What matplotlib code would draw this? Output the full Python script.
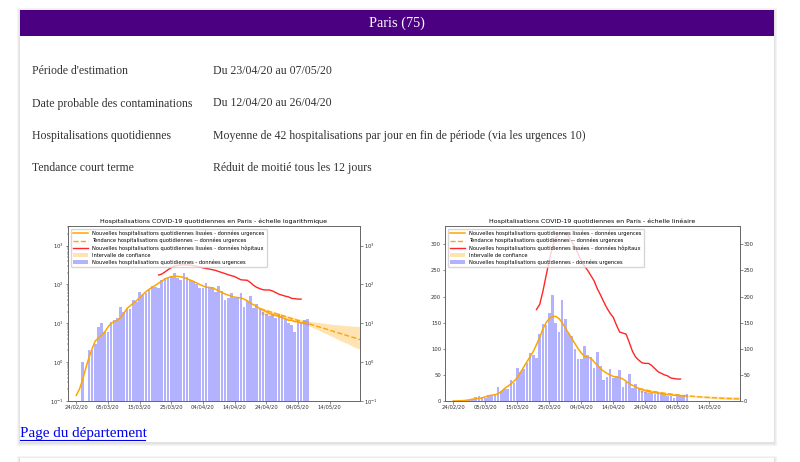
import pandas as pd
import matplotlib
matplotlib.use("Agg")
import matplotlib.pyplot as plt
import matplotlib.dates as mdates
from matplotlib.patches import Rectangle

# page text
department = "Paris (75)"
info_labels = ["Période d'estimation", "Date probable des contaminations",
               "Hospitalisations quotidiennes", "Tendance court terme"]
info_values = ["Du 23/04/20 au 07/05/20", "Du 12/04/20 au 26/04/20",
               "Moyenne de 42 hospitalisations par jour en fin de période (via les urgences 10)",
               "Réduit de moitié tous les 12 jours"]
link_text = "Page du département"

# daily new hospitalisations via emergency (bars), from 26/02/20
bar_start = "2020-02-26"
bar_values = [1, 0, 2, 2, 3, 8, 10, 6, 6, 11, 12, 14, 26, 20, 23, 23, 40, 35, 63, 55,
              62, 72, 92, 88, 82, 128, 147, 145, 168, 202, 150, 133, 193, 157, 130, 125,
              100, 80, 80, 106, 88, 84, 63, 93, 67, 40, 46, 62, 44, 48, 59, 27, 37, 51,
              25, 32, 24, 20, 17, 15, 16, 14, 17, 15, 13, 10, 9, 6, 11, 11, 12, 13]

# smoothed emergency series, from 24/02/20
smooth_start = "2020-02-24"
smooth_values = [0.14, 0.2, 0.35, 0.7, 1.3, 2.2, 3.5, 4.2, 5, 6, 8, 10, 11, 12, 14, 18,
                 24, 28, 33, 38, 45, 55, 65, 75, 85, 95, 108, 122, 138, 150, 158, 162,
                 162, 158, 150, 140, 130, 120, 110, 100, 92, 85, 84, 82, 75, 68, 62, 57,
                 53, 50, 47, 46, 45, 42, 38, 33, 30, 27, 24, 22, 20, 18, 17, 16, 15, 14,
                 13, 12, 12, 11, 11, 10, 10, 10]

# smoothed hospital series, from 21/03/20
hosp_start = "2020-03-21"
hosp_values = [175, 185, 210, 240, 270, 295, 312, 320, 321, 320, 316, 305, 295, 282,
               268, 258, 250, 240, 230, 215, 203, 190, 178, 168, 160, 145, 132, 130,
               128, 112, 95, 84, 78, 73, 72, 72, 68, 62, 56, 53, 50, 48, 44, 43, 42, 42]

# trend and confidence interval, every 2 days from 22/04/20
trend_start = "2020-04-22"
trend_values = [23.8, 21.2, 18.9, 16.8, 15.0, 13.3, 11.9, 10.6, 9.4, 8.4, 7.5, 6.7,
                5.9, 5.3, 4.7, 4.2, 3.7]
ci_upper = [26, 23.2, 20.6, 18.4, 16.4, 14.6, 13.2, 12.0, 11.2, 10.6, 10.1, 9.6,
            9.2, 8.9, 8.6, 8.4, 8.2]
ci_lower = [17, 16.5, 15.6, 14.5, 13.3, 12.0, 10.8, 9.6, 8.2, 7.0, 5.8, 4.9,
            4.1, 3.4, 2.9, 2.4, 2.1]

tick_labels = ["24/02/20", "05/03/20", "15/03/20", "25/03/20", "04/04/20",
               "14/04/20", "24/04/20", "04/05/20", "14/05/20"]

bar_dates = pd.date_range(bar_start, periods=len(bar_values))
smooth_dates = pd.date_range(smooth_start, periods=len(smooth_values))
hosp_dates = pd.date_range(hosp_start, periods=len(hosp_values))
trend_dates = pd.date_range(trend_start, periods=len(trend_values), freq="2D")
tick_dates = pd.to_datetime(tick_labels, format="%d/%m/%y")

W, H = 800, 462
fig = plt.figure(figsize=(8, 4.62), dpi=100)
fig.patch.set_facecolor("white")

page = fig.add_axes([0, 0, 1, 1])
page.set_xlim(0, W)
page.set_ylim(H, 0)
page.axis("off")

serif = "Liberation Serif"
# card shadows
for off, c in [(3, "#f4f4f4"), (2, "#ececec"), (1, "#e2e2e2")]:
    page.add_patch(Rectangle((19.5 - off, 10 - off + 1), 754 + 2 * off, 432 + 2 * off,
                             facecolor=c, edgecolor="none"))
    page.add_patch(Rectangle((19.5 - off, 458 - off + 1), 754 + 2 * off, 20,
                             facecolor=c, edgecolor="none"))
page.add_patch(Rectangle((19.5, 10), 754, 432, facecolor="white", edgecolor="none"))
page.add_patch(Rectangle((19.5, 458), 754, 20, facecolor="white", edgecolor="none"))
page.add_patch(Rectangle((19.5, 10), 754, 26, facecolor="#4b0082", edgecolor="none"))
page.text(396.5, 23, department, color="white", fontsize=10.3, family=serif,
          ha="center", va="center")

row_y = [74.5, 106.5, 139, 171]
for y, lab, val in zip(row_y, info_labels, info_values):
    page.text(31.5, y, lab, fontsize=8.5, family=serif, color="#333333", va="baseline")
    page.text(213, y, val, fontsize=8.5, family=serif, color="#333333", va="baseline")

page.text(20, 437.5, link_text, fontsize=10.9, family=serif, color="#0000ee",
          va="baseline")
page.plot([20, 145], [440, 440], color="#0000ee", lw=0.8)

xmin = mdates.date2num(pd.Timestamp("2020-02-24")) - 2.6
xmax = mdates.date2num(pd.Timestamp("2020-02-24")) + 89.6


def draw_chart(rect, scale, title):
    ax = fig.add_axes(rect)
    ax.plot(smooth_dates, smooth_values, color="orange", lw=1.1,
            label="Nouvelles hospitalisations quotidiennes lissées - données urgences")
    ax.plot(trend_dates, trend_values, color="orange", lw=1.0, ls="--",
            label="Tendance hospitalisations quotidiennes -- données urgences")
    ax.plot(hosp_dates, hosp_values, color="red", lw=1.0, alpha=0.85,
            label="Nouvelles hospitalisations quotidiennes lissées - données hôpitaux")
    ax.fill_between(trend_dates, ci_lower, ci_upper, color="orange", alpha=0.3, lw=0,
                    label="Intervalle de confiance")
    ax.bar(bar_dates, bar_values, width=0.8, color="blue", alpha=0.3,
           label="Nouvelles hospitalisations quotidiennes - données urgences")
    ax.set_yscale(scale)
    if scale == "log":
        ax.set_ylim(0.1, 3200)
    else:
        ax.set_ylim(0, 335)
    ax.set_xlim(xmin, xmax)
    ax.set_xticks(tick_dates)
    ax.set_xticklabels(tick_labels)
    ax.set_title(title, fontsize=4.5, pad=2)
    ax.legend(loc="upper left", fontsize=3.7, handlelength=3, borderpad=0.4,
              labelspacing=0.35, framealpha=0.8, edgecolor="#cccccc")
    ax.tick_params(labelsize=3.8, length=1.8, width=0.4, pad=1, colors="#333333")
    ax.tick_params(which="minor", length=0.9, width=0.3)

    ax2 = ax.twinx()
    ax2.set_yscale(scale)
    ax2.set_ylim(ax.get_ylim())
    ax2.tick_params(labelsize=3.8, length=1.8, width=0.4, pad=1, colors="#333333")
    ax2.tick_params(which="minor", length=0.9, width=0.3)
    for a in (ax, ax2):
        for s in a.spines.values():
            s.set_linewidth(0.6)
            s.set_color("#666666")


draw_chart([68 / W, 1 - 401 / H, 292 / W, 175 / H], "log",
           "Hospitalisations COVID-19 quotidiennes en Paris - échelle logarithmique")
draw_chart([445 / W, 1 - 401 / H, 295 / W, 175 / H], "linear",
           "Hospitalisations COVID-19 quotidiennes en Paris - échelle linéaire")

fig.savefig("out.png", dpi=100)
